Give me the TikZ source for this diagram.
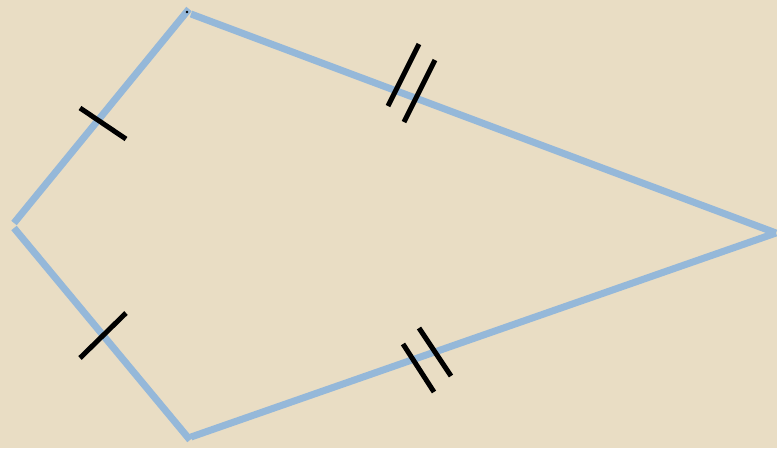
\documentclass[tikz,border=0pt]{standalone}
\usepackage{xcolor}
\definecolor{paper}{RGB}{233,221,196}
\definecolor{kiteblue}{RGB}{149,184,217}
\tikzset{
  side/.style={kiteblue,line width=7pt},
  tick/.style={black,line width=5pt}
}
\begin{document}
\begin{tikzpicture}[x=1pt,y=-1pt]
  % background
  \fill[paper] (0,0) rectangle (777,448);
  \useasboundingbox (0,0) rectangle (777,448);
  % Vertices of the kite
  \coordinate (T1) at (189,9);
  \coordinate (T2) at (191,14);
  \coordinate (L1) at (14,223);
  \coordinate (L2) at (14,228);
  \coordinate (R) at (776,233);
  \coordinate (B1) at (190,440);
  \coordinate (B2) at (191,437);
  % Sides
  \draw[side] (L1) -- (T1);
  \draw[side] (T2) -- (R);
  \draw[side] (R) -- (B2);
  \draw[side] (L2) -- (B1);
  % Single ticks on the short sides
  \draw[tick] (80,108) -- (126,139);
  \draw[tick] (80,358) -- (126,313);
  % Double ticks on the long sides
  \draw[tick] (388,106) -- (419,44);
  \draw[tick] (404,122) -- (435,60);
  \draw[tick] (403,344) -- (434,392);
  \draw[tick] (419,328) -- (451,376);
  % small dot near the top
  \fill (187,12) circle (1.3pt);
\end{tikzpicture}
\end{document}
